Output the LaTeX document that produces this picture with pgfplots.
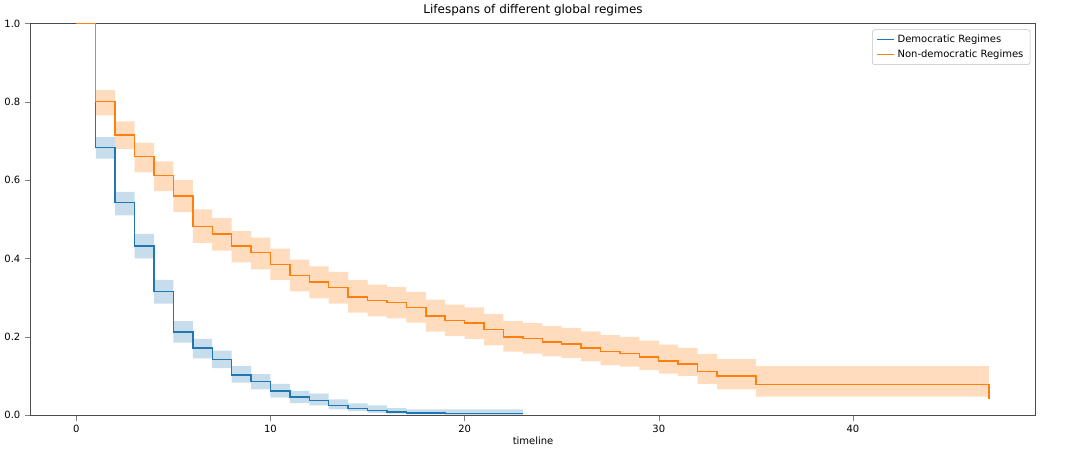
\documentclass[border=0pt]{standalone}
\usepackage{pgfplots}
\pgfplotsset{compat=1.18}
\usepackage{pgfplotstable}
\usepgfplotslibrary{fillbetween}
\usepackage{fontspec}
\setmainfont{DejaVu Sans}
\definecolor{cb}{HTML}{1F77B4}
\definecolor{co}{HTML}{FF7F0E}
\pgfplotstableread{
t s lo hi
0 1 1 1
1 0.80 0.765 0.83
2 0.715 0.68 0.75
3 0.66 0.62 0.695
4 0.612 0.572 0.648
5 0.56 0.518 0.60
6 0.482 0.44 0.525
7 0.462 0.42 0.503
8 0.432 0.39 0.47
9 0.415 0.372 0.453
10 0.385 0.345 0.425
11 0.357 0.316 0.397
12 0.34 0.298 0.38
13 0.326 0.285 0.366
14 0.302 0.262 0.345
15 0.292 0.252 0.333
16 0.288 0.247 0.327
17 0.275 0.236 0.315
18 0.253 0.213 0.295
19 0.242 0.202 0.282
20 0.235 0.195 0.275
21 0.218 0.178 0.258
22 0.20 0.162 0.24
23 0.195 0.157 0.235
24 0.187 0.15 0.228
25 0.182 0.146 0.223
26 0.172 0.137 0.214
27 0.162 0.128 0.204
28 0.158 0.124 0.20
29 0.148 0.115 0.19
30 0.138 0.106 0.18
31 0.13 0.10 0.172
32 0.112 0.08 0.156
33 0.10 0.066 0.143
35 0.078 0.047 0.125
47 0.04 0.047 0.125
}\nondem
\pgfplotstableread{
t s lo hi
0 1 1 1
1 0.683 0.655 0.71
2 0.543 0.51 0.57
3 0.432 0.40 0.463
4 0.315 0.285 0.345
5 0.212 0.185 0.24
6 0.171 0.145 0.195
7 0.142 0.12 0.165
8 0.103 0.083 0.125
9 0.086 0.066 0.105
10 0.062 0.045 0.08
11 0.046 0.031 0.062
12 0.038 0.025 0.055
13 0.025 0.015 0.04
14 0.017 0.01 0.03
15 0.012 0.006 0.025
16 0.008 0.004 0.018
17 0.006 0.002 0.015
19 0.004 0.001 0.015
23 0.004 0.001 0.015
}\dem
\begin{document}
\begin{tikzpicture}
\begin{axis}[
  scale only axis, width=754pt, height=294pt,
  xmin=-2.35, xmax=49.4, ymin=0, ymax=1,
  xtick={0,10,20,30,40}, ytick={0,0.2,0.4,0.6,0.8,1.0},
  xtick pos=left, ytick pos=left,
  yticklabel style={/pgf/number format/fixed,/pgf/number format/fixed zerofill,/pgf/number format/precision=1},
  /pgf/number format/assume math mode=true,
  ticklabel style={font=\fontsize{7.5}{9}\selectfont},
  xlabel={timeline}, xlabel style={font=\fontsize{7.5}{9}\selectfont, yshift=4pt},
  title={Lifespans of different global regimes}, title style={font=\fontsize{9}{11}\selectfont, yshift=-4pt},
  tick align=outside, axis line style={black!70},
  legend style={at={(0.995,0.985)}, anchor=north east, font=\fontsize{7.5}{9}\selectfont, draw=black!25, rounded corners=2pt, cells={anchor=west}},
  legend cell align=left,
  legend image code/.code={\draw[#1] (0cm,0cm) -- (0.45cm,0cm);},
]
\addplot[const plot, draw=none, name path=bh, forget plot] table[x=t,y=hi] {\dem};
\addplot[const plot, draw=none, name path=bl, forget plot] table[x=t,y=lo] {\dem};
\addplot[cb, opacity=0.25, forget plot] fill between[of=bh and bl];
\addplot[const plot, draw=none, name path=oh, forget plot] table[x=t,y=hi] {\nondem};
\addplot[const plot, draw=none, name path=ol, forget plot] table[x=t,y=lo] {\nondem};
\addplot[co, opacity=0.27, forget plot] fill between[of=oh and ol];
\addplot[const plot, cb, line width=1.1pt] table[x=t,y=s] {\dem};
\addlegendentry{Democratic Regimes}
\addplot[const plot, co, line width=1.1pt] table[x=t,y=s] {\nondem};
\addlegendentry{Non-democratic Regimes}
\end{axis}
\path ([shift={(-22.5pt,-26.5pt)}]current axis.south west) rectangle ([shift={(41pt,16.5pt)}]current axis.north east);
\end{tikzpicture}
\end{document}
